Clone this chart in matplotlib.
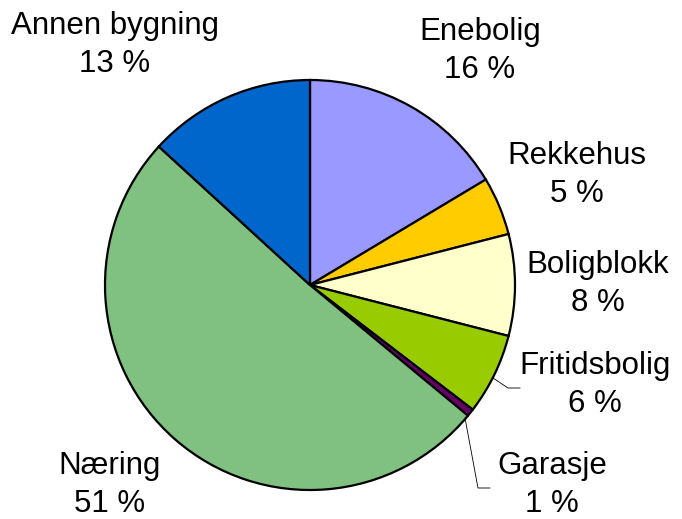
import matplotlib.pyplot as plt

plt.rcParams['font.family'] = ['Liberation Sans', 'DejaVu Sans']

categories = ['Enebolig', 'Rekkehus', 'Boligblokk', 'Fritidsbolig', 'Garasje', 'Næring', 'Annen bygning']
shares = [16.4, 4.6, 8.0, 6.4, 0.6, 50.8, 13.2]
colors = ['#9999FF', '#FFCC00', '#FFFFCC', '#99CC00', '#660066', '#80C080', '#0066CC']

# label centres in pixel coordinates (y from bottom)
label_pos = [(480, 468), (577, 344), (598, 235), (595, 134), (552, 34), (110, 34), (115, 474)]

fig = plt.figure(figsize=(6.82, 5.19), dpi=100)
ax = fig.add_axes([0, 0, 1, 1])

ax.pie(shares, colors=colors, startangle=90, counterclock=False,
       center=(310, 234), radius=205, frame=True,
       wedgeprops=dict(edgecolor='black', linewidth=1.6))
ax.set_xlim(0, 682)
ax.set_ylim(0, 519)
ax.axis('off')

for name, val, (x, y) in zip(categories, shares, label_pos):
    ax.text(x, y, f'{name}\n{round(val)} %', ha='center', va='center',
            fontsize=22.5, linespacing=1.35)

# leader lines for the small slices
ax.plot([493, 508, 520], [141, 131, 131], color='black', lw=0.6)
ax.plot([465, 478, 490], [101, 31, 31], color='black', lw=0.6)

fig.savefig('out.png', dpi=100)
